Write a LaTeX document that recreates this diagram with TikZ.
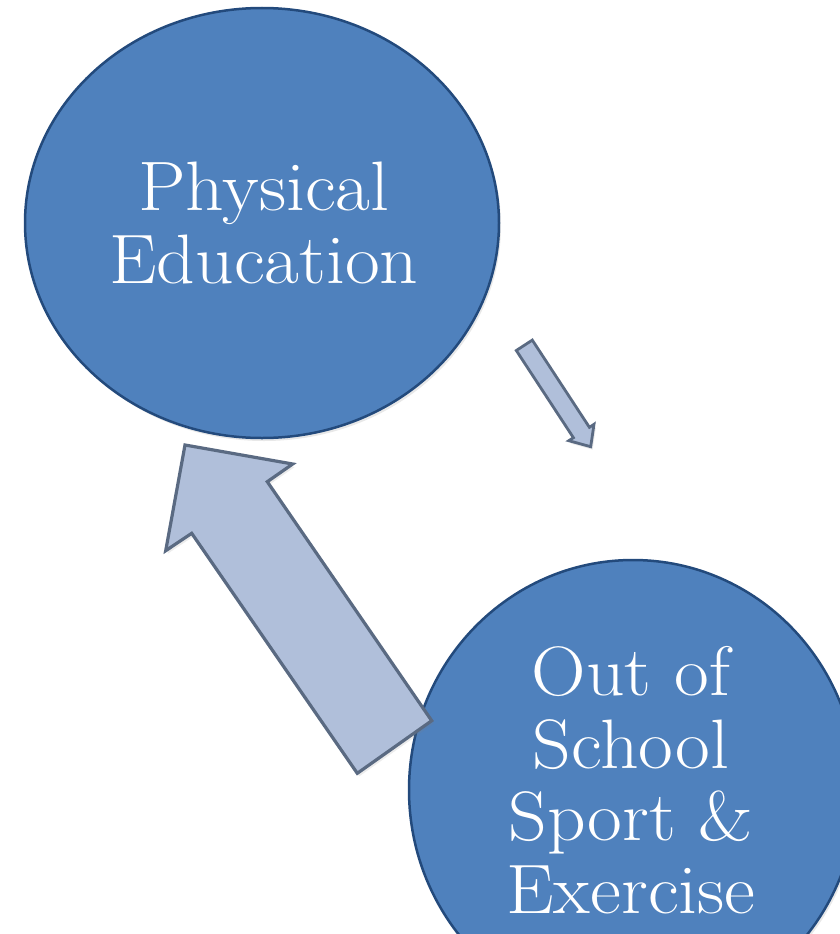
\documentclass[tikz,border=0pt]{standalone}
\usepackage{fontspec}
\setmainfont[FakeStretch=1.08]{Latin Modern Roman}
\usetikzlibrary{shapes.geometric,shadows}
\definecolor{circfill}{HTML}{4F81BD}
\definecolor{circline}{HTML}{234A7C}
\definecolor{arrfill}{HTML}{B0BFDA}
\definecolor{arrline}{HTML}{5A6A82}
\tikzset{
  bubble/.style={ellipse, draw=circline, line width=2.5pt, fill=circfill, inner sep=0pt,
    drop shadow={opacity=0.18, shadow xshift=2pt, shadow yshift=-3pt}},
  bigtext/.style={text=white, align=center, anchor=base, inner sep=0pt,
    font=\fontsize{70}{72.5}\selectfont},
  blockarrow/.style={fill=arrfill, draw=arrline, line width=3.2pt, line join=miter,
    drop shadow={opacity=0.15, shadow xshift=2pt, shadow yshift=-3pt}}
}
\begin{document}
\begin{tikzpicture}[x=1pt,y=-1pt]
\useasboundingbox (0,0) rectangle (839,934);
% circles
\node[bubble, minimum width=474pt, minimum height=430pt] (pe) at (262,223) {};
\node[bubble, minimum width=448pt, minimum height=460pt] (os) at (633,790) {};
% texts (anchor base = baseline of last line)
\node[bigtext] (petext) at (264,283) {Physical\\Education};
\node[bigtext] (ostext) at (631,913) {Out of\\School\\Sport \&\\Exercise};
% big arrow (from Out of School toward Physical Education)
\draw[blockarrow] (357.3,773.3) -- (191.7,533.3) -- (165.7,550.7) -- (185,445)
  -- (292.7,464) -- (267.3,481.7) -- (431.7,720.7) -- cycle;
% small arrow (from Physical Education toward Out of School)
\draw[blockarrow, line width=2.8pt] (532.3,340.1) -- (589.4,427.3) -- (594.0,424.3) -- (590.7,446.7)
  -- (568.8,440.7) -- (573.4,437.7) -- (516.3,350.5) -- cycle;
\end{tikzpicture}
\end{document}
